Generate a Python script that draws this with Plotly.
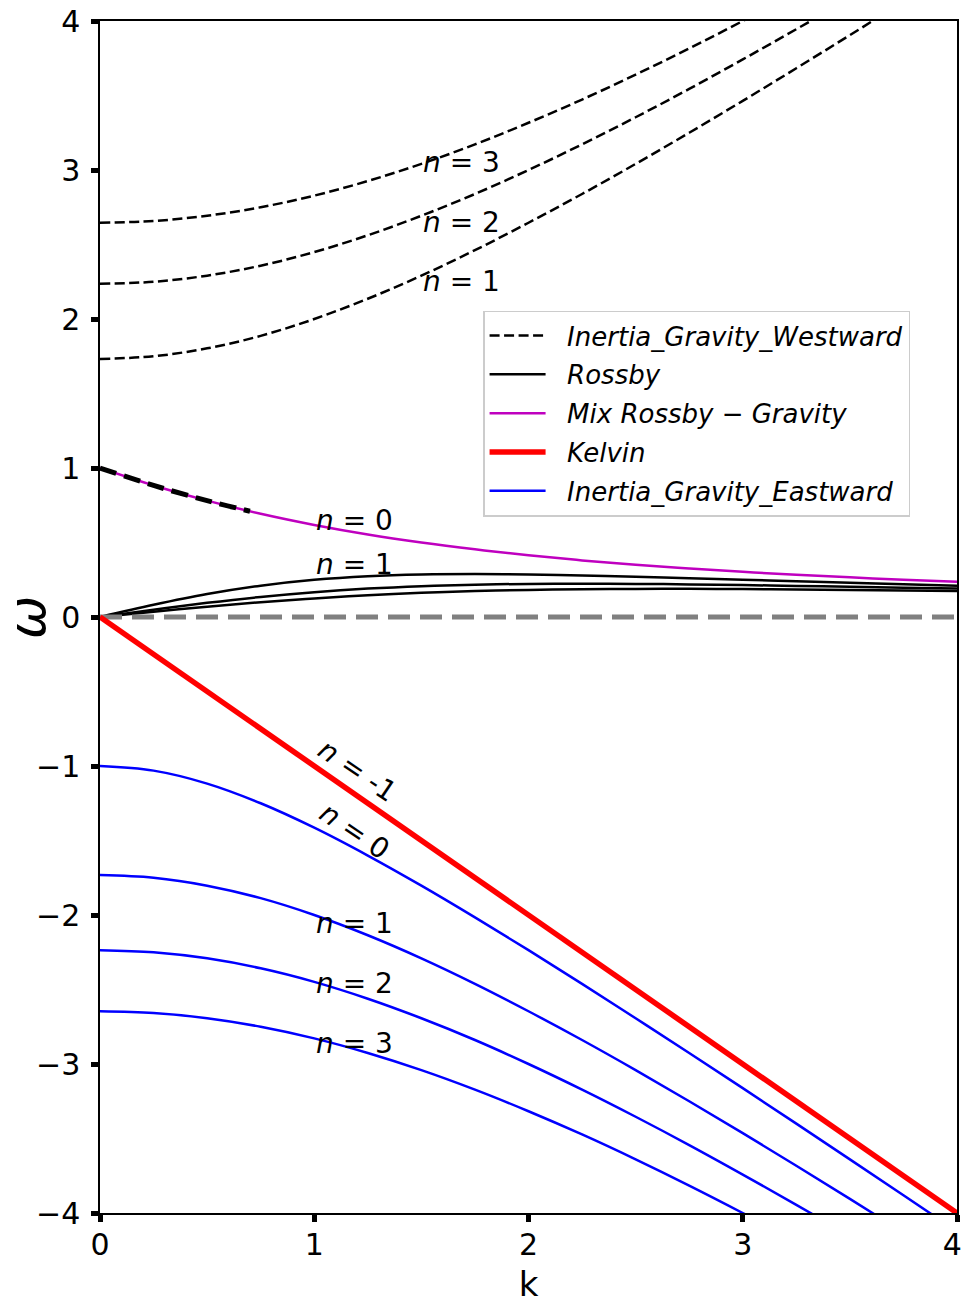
import plotly.graph_objects as go

# ---- data ----
k = [0, 0.25, 0.5, 0.75, 1.0, 1.25, 1.5, 1.75, 2.0, 2.25, 2.5, 2.75, 3.0, 3.25, 3.5, 3.75, 4.0]

igw_n1 = [1.732, 1.750, 1.803, 1.887, 2.000, 2.136, 2.291, 2.462, 2.646, 2.839, 3.041, 3.250, 3.464, 3.683, 3.905, 4.131, 4.359]
igw_n2 = [2.236, 2.250, 2.291, 2.358, 2.449, 2.562, 2.693, 2.839, 3.000, 3.172, 3.354, 3.544, 3.742, 3.945, 4.153, 4.366, 4.583]
igw_n3 = [2.646, 2.658, 2.693, 2.750, 2.828, 2.926, 3.041, 3.172, 3.317, 3.473, 3.640, 3.816, 4.000, 4.191, 4.387, 4.589, 4.796]

rossby_n1 = [0, 0.0816, 0.1538, 0.2105, 0.2500, 0.2740, 0.2857, 0.2887, 0.2857, 0.2791, 0.2703, 0.2604, 0.2500, 0.2396, 0.2295, 0.2198, 0.2105]
rossby_n2 = [0, 0.0494, 0.0952, 0.1348, 0.1667, 0.1905, 0.2069, 0.2171, 0.2222, 0.2236, 0.2222, 0.2189, 0.2143, 0.2088, 0.2029, 0.1967, 0.1905]
rossby_n3 = [0, 0.0354, 0.0690, 0.0992, 0.1250, 0.1460, 0.1622, 0.1739, 0.1818, 0.1865, 0.1887, 0.1888, 0.1875, 0.1851, 0.1818, 0.1780, 0.1739]

mrg = [1.000, 0.883, 0.781, 0.693, 0.618, 0.554, 0.500, 0.454, 0.414, 0.380, 0.351, 0.325, 0.303, 0.283, 0.266, 0.250, 0.236]
mrg_dash_k = [0, 0.25, 0.5, 0.7]
mrg_dash = [1.000, 0.883, 0.781, 0.710]

kelvin_k = [0, 4]
kelvin = [0, -4]

ige_n0 = [-1.000, -1.031, -1.118, -1.250, -1.414, -1.601, -1.803, -2.016, -2.236, -2.462, -2.693, -2.926, -3.162, -3.400, -3.640, -3.881, -4.123]
ige_n1 = [-v for v in igw_n1]
ige_n2 = [-v for v in igw_n2]
ige_n3 = [-v for v in igw_n3]

zero_k = [0, 4]
zero_w = [0, 0]

xticks = [0, 1, 2, 3, 4]
xticklabels = ["0", "1", "2", "3", "4\u00a0"]
yticks = [-4, -3, -2, -1, 0, 1, 2, 3, 4]

FONT = "DejaVu Sans"
SP = "\u00a0\u00a0"
fig = go.Figure()

_g = [0]
def add(x, y, color, width, dash=None, name=None, show=False, shape="spline"):
    _g[0] += 1
    fig.add_trace(go.Scatter(
        x=x, y=y, mode="lines",
        line=dict(color=color, width=width, dash=dash, shape=shape),
        name=name, showlegend=show, hoverinfo="skip", legendgroup="g%d" % _g[0]))

# westward inertia-gravity
add(k, igw_n1, "black", 2.5, "10px,4.5px", SP + "<i>Inertia_Gravity_Westward</i>", True)
add(k, igw_n2, "black", 2.5, "10px,4.5px")
add(k, igw_n3, "black", 2.5, "10px,4.5px")
# rossby
add(k, rossby_n1, "black", 2.5, None, SP + "<i>Rossby</i>", True)
add(k, rossby_n2, "black", 2.5)
add(k, rossby_n3, "black", 2.5)
# mixed rossby-gravity
add(k, mrg, "#bf00bf", 2.5, None, SP + "<i>Mix Rossby</i> − <i>Gravity</i>", True)
add(mrg_dash_k, mrg_dash, "black", 5, "17px,8px")
# zero line
add(zero_k, zero_w, "gray", 5, "22px,10px", shape="linear")
# kelvin
add(kelvin_k, kelvin, "red", 5.5, None, SP + "<i>Kelvin</i>", True, shape="linear")
# eastward inertia-gravity
add(k, ige_n0, "blue", 2.5, None, SP + "<i>Inertia_Gravity_Eastward</i>", True)
add(k, ige_n1, "blue", 2.5)
add(k, ige_n2, "blue", 2.5)
add(k, ige_n3, "blue", 2.5)

labels = [
    (1.5, 3.05, "<i>n</i> = 3"),
    (1.5, 2.65, "<i>n</i> = 2"),
    (1.5, 2.25, "<i>n</i> = 1"),
    (1.0, 0.65, "<i>n</i> = 0"),
    (1.0, 0.35, "<i>n</i> = 1"),
    (1.0, -2.06, "<i>n</i> = 1"),
    (1.0, -2.46, "<i>n</i> = 2"),
    (1.0, -2.86, "<i>n</i> = 3"),
]
for x, y, t in labels:
    fig.add_annotation(x=x, y=y, text=t, showarrow=False, xanchor="left", yanchor="middle",
                       font=dict(family=FONT, size=28, color="black"))
fig.add_annotation(x=1.2, y=-1.03, text="<i>n</i> = -1", showarrow=False, textangle=34,
                   font=dict(family=FONT, size=28, color="black"))
fig.add_annotation(x=1.19, y=-1.44, text="<i>n</i> = 0", showarrow=False, textangle=34,
                   font=dict(family=FONT, size=28, color="black"))

# y-axis label (omega), rotated like a matplotlib ylabel
fig.add_annotation(xref="paper", yref="paper", x=-0.085, y=0.5, text="<i>ω</i>",
                   showarrow=False, textangle=-90, xanchor="center", yanchor="middle",
                   borderpad=0,
                   font=dict(family=FONT, size=52, color="black"))

axis_common = dict(showline=True, linecolor="black", linewidth=1.5, mirror=True,
                   ticks="outside", ticklen=7, tickwidth=4.5, tickcolor="black",
                   showgrid=False, zeroline=False, automargin=False,
                   ticklabeloverflow="allow",
                   tickfont=dict(family=FONT, size=30, color="black"))

fig.update_xaxes(range=[0, 4], tickvals=xticks, ticktext=xticklabels,
                 ticklabelstandoff=-3,
                 title=dict(text="k", font=dict(family=FONT, size=34, color="black"), standoff=17),
                 **axis_common)
fig.update_yaxes(range=[-4, 4], tickvals=yticks, ticklabelstandoff=5, **axis_common)

fig.update_layout(
    width=964, height=1304,
    margin=dict(l=100, r=7, t=21, b=91),
    paper_bgcolor="white", plot_bgcolor="white",
    font=dict(family=FONT, color="black"),
    legend=dict(x=0.447, y=0.757, xanchor="left", yanchor="top",
                bgcolor="rgba(255,255,255,0.85)", bordercolor="#cccccc", borderwidth=1.5,
                font=dict(family=FONT, size=26, color="black"), itemwidth=56,
                tracegroupgap=2),
)

fig.write_html("out.html", config={"displayModeBar": False},
               post_script="document.body.style.margin='0';")
